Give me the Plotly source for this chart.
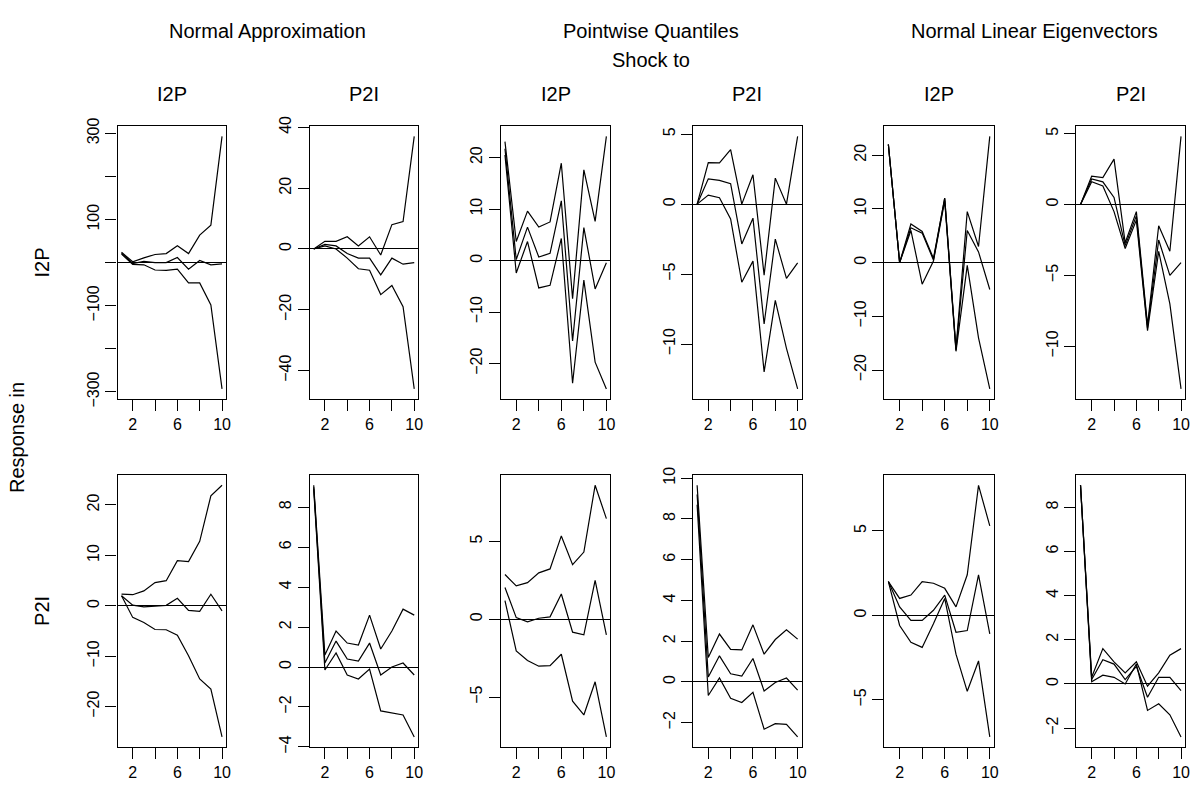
import plotly.graph_objects as go

periods = list(range(1, 11))

# Row 1: response in I2P
na_11_hi = [24, 2, 11, 19, 21, 39, 21, 64, 87, 293]
na_11_mid = [22, -2, 3, 0, 0, 12, -15, 5, -5, -3]
na_11_lo = [20, -4, -5, -17, -18, -15, -47, -47, -98, -293]

na_12_hi = [0, 2.5, 2.5, 4, 1, 4, -2, 8, 9, 37]
na_12_mid = [0, 1.5, 1, -1.5, -3, -3, -8.5, -3, -5, -4.5]
na_12_lo = [0, 1, 0, -3, -6.5, -7, -15, -12, -19, -46]

pq_11_hi = [23.1, 3.7, 9.6, 6.5, 7.5, 18.9, -7.4, 17.6, 7.6, 24.1]
pq_11_mid = [21.7, 0.2, 6.5, 0.7, 1.4, 11.6, -15.6, 6.4, -5.5, -0.4]
pq_11_lo = [20.5, -2.4, 3.7, -5.3, -4.8, 4.3, -23.8, -3.8, -19.7, -24.9]

pq_12_hi = [0, 2.97, 2.95, 3.9, 0, 2.1, -5.07, 1.86, 0.0, 4.84]
pq_12_mid = [0, 1.81, 1.7, 1.46, -2.84, -1.0, -8.56, -2.5, -5.3, -4.2]
pq_12_lo = [0, 0.65, 0.46, -1.05, -5.58, -4.07, -11.98, -6.87, -10.3, -13.2]

ne_11_hi = [22, 0, 7.2, 5.8, 0.8, 12, -16, 9.5, 3, 23.5]
ne_11_mid = [22, 0, 6.5, 5.5, 0.5, 12, -16.3, 6, 2, -5]
ne_11_lo = [22, 0, 6, -4, 0.3, 11.5, -16.5, -0.5, -14, -23.5]

ne_12_hi = [0, 2.0, 1.9, 3.2, -2.7, -0.5, -8.5, -1.5, -3.3, 4.8]
ne_12_mid = [0, 1.8, 1.6, 0.5, -2.9, -0.8, -8.7, -2.5, -5.0, -4.1]
ne_12_lo = [0, 1.6, 1.3, -0.5, -3.1, -1.1, -8.9, -3.3, -7.0, -13.0]

# Row 2: response in P2I
na_21_hi = [2.3, 2.2, 2.96, 4.6, 4.98, 8.95, 8.76, 12.8, 21.8, 23.9]
na_21_mid = [2.0, 0.13, -0.2, 0, 0.1, 1.5, -0.9, -1.1, 2.3, -1.0]
na_21_lo = [2.0, -2.3, -3.3, -4.7, -4.75, -5.85, -9.9, -14.5, -16.5, -26.0]

na_22_hi = [9.1, 0.6, 1.8, 1.2, 1.1, 2.6, 0.9, 1.8, 2.9, 2.6]
na_22_mid = [9.0, 0.2, 1.3, 0.4, 0.3, 1.2, -0.4, 0.0, 0.2, -0.4]
na_22_lo = [8.9, -0.15, 0.7, -0.4, -0.6, -0.1, -2.2, -2.3, -2.4, -3.5]

pq_21_hi = [2.87, 2.14, 2.35, 2.98, 3.23, 5.35, 3.5, 4.31, 8.6, 6.46]
pq_21_mid = [2.04, 0.1, -0.17, 0.06, 0.15, 1.62, -0.83, -1.0, 2.5, -1.0]
pq_21_lo = [1.19, -2.04, -2.65, -3.02, -2.98, -2.25, -5.27, -6.15, -4.02, -7.56]

pq_22_hi = [9.65, 1.2, 2.35, 1.6, 1.57, 2.8, 1.36, 2.08, 2.56, 2.1]
pq_22_mid = [9.2, 0.24, 1.28, 0.4, 0.29, 1.15, -0.45, -0.03, 0.19, -0.4]
pq_22_lo = [8.7, -0.67, 0.19, -0.8, -1.01, -0.51, -2.32, -2.05, -2.08, -2.7]

ne_21_hi = [2.0, 1.0, 1.2, 2.0, 1.9, 1.6, 0.5, 2.4, 7.7, 5.3]
ne_21_mid = [2.0, 0.5, -0.3, -0.3, 0.3, 1.2, -1.0, -0.9, 2.4, -1.1]
ne_21_lo = [2.0, -0.6, -1.6, -1.9, -0.5, 1.0, -2.3, -4.5, -2.7, -7.2]

ne_22_hi = [9.0, 0.3, 1.6, 1.0, 0.5, 1.0, -0.1, 0.5, 1.3, 1.6]
ne_22_mid = [9.0, 0.2, 1.1, 0.9, 0.2, 0.8, -0.6, 0.3, 0.3, -0.3]
ne_22_lo = [9.0, 0.1, 0.4, 0.3, 0.0, 0.9, -1.2, -0.9, -1.4, -2.4]

method_titles = ["Normal Approximation", "Pointwise Quantiles", "Normal Linear Eigenvectors"]
shock_labels = ["I2P", "P2I"]
response_labels = ["I2P", "P2I"]
x_tickvals = [2, 4, 6, 8, 10]
x_ticktext = ["2", "", "6", "", "10"]

# (row, col) -> series, y tick values, y tick labels
panels = [
    (0, 0, [na_11_hi, na_11_mid, na_11_lo], [-300, -200, -100, 0, 100, 200, 300], ["\u2212300", "", "\u2212100", "", "100", "", "300"]),
    (0, 1, [na_12_hi, na_12_mid, na_12_lo], [-40, -20, 0, 20, 40], ["\u221240", "\u221220", "0", "20", "40"]),
    (0, 2, [pq_11_hi, pq_11_mid, pq_11_lo], [-20, -10, 0, 10, 20], ["\u221220", "\u221210", "0", "10", "20"]),
    (0, 3, [pq_12_hi, pq_12_mid, pq_12_lo], [-10, -5, 0, 5], ["\u221210", "\u22125", "0", "5"]),
    (0, 4, [ne_11_hi, ne_11_mid, ne_11_lo], [-20, -10, 0, 10, 20], ["\u221220", "\u221210", "0", "10", "20"]),
    (0, 5, [ne_12_hi, ne_12_mid, ne_12_lo], [-10, -5, 0, 5], ["\u221210", "\u22125", "0", "5"]),
    (1, 0, [na_21_hi, na_21_mid, na_21_lo], [-20, -10, 0, 10, 20], ["\u221220", "\u221210", "0", "10", "20"]),
    (1, 1, [na_22_hi, na_22_mid, na_22_lo], [-4, -2, 0, 2, 4, 6, 8], ["\u22124", "\u22122", "0", "2", "4", "6", "8"]),
    (1, 2, [pq_21_hi, pq_21_mid, pq_21_lo], [-5, 0, 5], ["\u22125", "0", "5"]),
    (1, 3, [pq_22_hi, pq_22_mid, pq_22_lo], [-2, 0, 2, 4, 6, 8, 10], ["\u22122", "0", "2", "4", "6", "8", "10"]),
    (1, 4, [ne_21_hi, ne_21_mid, ne_21_lo], [-5, 0, 5], ["\u22125", "0", "5"]),
    (1, 5, [ne_22_hi, ne_22_mid, ne_22_lo], [-2, 0, 2, 4, 6, 8], ["\u22122", "0", "2", "4", "6", "8"]),
]

W, H = 1201, 797
col_px = [(118, 227), (311, 420), (503, 613), (696, 805), (888, 998), (1081, 1190)]
row_px = [(119, 398), (476, 754)]
FONT = "Liberation Sans, Arial, Helvetica, sans-serif"
TICK_SIZE = 16
TITLE_SIZE = 20

fig = go.Figure()
for idx, (r, c, series, yt, ytt) in enumerate(panels):
    n = idx + 1
    xa = "x" if n == 1 else f"x{n}"
    ya = "y" if n == 1 else f"y{n}"
    for s in series:
        fig.add_trace(go.Scatter(x=periods, y=s, mode="lines", xaxis=xa, yaxis=ya,
                                 line=dict(color="black", width=1.2), showlegend=False,
                                 hoverinfo="skip"))
    vals = [v for s in series for v in s]
    lo, hi = min(vals), max(vals)
    pad = 0.04 * (hi - lo)
    x0, x1 = col_px[c]
    y0, y1 = row_px[r]
    xkey = "xaxis" if n == 1 else f"xaxis{n}"
    ykey = "yaxis" if n == 1 else f"yaxis{n}"
    fig.layout[xkey] = dict(domain=[x0 / W, x1 / W], anchor=ya, range=[0.64, 10.36],
                            tickvals=x_tickvals, ticktext=x_ticktext, ticks="outside",
                            ticklen=11, tickwidth=1.2, tickcolor="black",
                            showline=True, linecolor="black", linewidth=1.3, mirror=True,
                            showgrid=False, zeroline=False,
                            tickfont=dict(family=FONT, size=TICK_SIZE, color="black"))
    fig.layout[ykey] = dict(domain=[1 - y1 / H, 1 - y0 / H], anchor=xa,
                            range=[lo - pad, hi + pad],
                            tickvals=yt, ticktext=ytt, ticks="outside", tickangle=-90,
                            ticklen=11, tickwidth=1.2, tickcolor="black",
                            showline=True, linecolor="black", linewidth=1.3, mirror=True,
                            showgrid=False, zeroline=True, zerolinecolor="black",
                            zerolinewidth=1.3,
                            tickfont=dict(family=FONT, size=TICK_SIZE, color="black"))

ann = []
def text(x, y, s, angle=0, size=TITLE_SIZE):
    ann.append(dict(x=x / W, y=1 - y / H, xref="paper", yref="paper", text=s,
                    showarrow=False, textangle=angle, xanchor="center", yanchor="middle",
                    font=dict(family=FONT, size=size, color="black")))

for m, title in enumerate(method_titles):
    cx = (col_px[2 * m][0] + col_px[2 * m + 1][1]) / 2
    text(cx, 21, title)
text((col_px[2][0] + col_px[3][1]) / 2, 51, "Shock to")
for c in range(6):
    cx = (col_px[c][0] + col_px[c][1]) / 2
    text(cx, 86, shock_labels[c % 2])
for r in range(2):
    cy = (row_px[r][0] + row_px[r][1]) / 2
    text(42, cy, response_labels[r], angle=-90)
text(17, (row_px[0][1] + row_px[1][0]) / 2, "Response in", angle=-90)

fig.update_layout(width=W, height=H, margin=dict(l=0, r=0, t=0, b=0),
                  paper_bgcolor="white", plot_bgcolor="white", annotations=ann,
                  showlegend=False)
fig.write_html("out.html", config={"displayModeBar": False},
               post_script="document.body.style.margin='0px';document.body.style.overflow='hidden';")
